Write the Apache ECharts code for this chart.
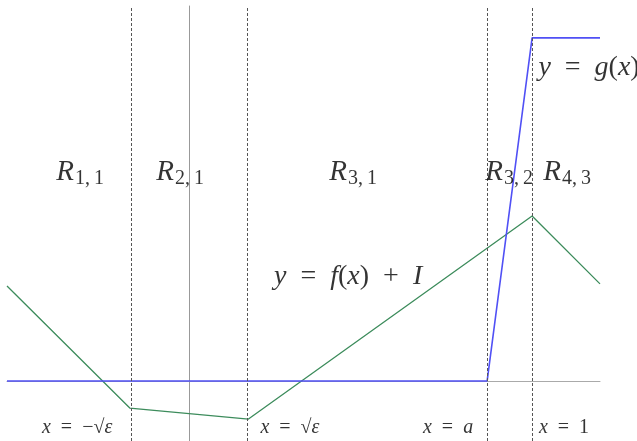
<!DOCTYPE html>
<html>
<head>
<meta charset="utf-8">
<script src="https://cdn.jsdelivr.net/npm/echarts@6/dist/echarts.min.js"></script>
<style>
  html, body { margin: 0; padding: 0; background: #fff; }
  #chart { width: 637px; height: 441px; }
</style>
</head>
<body>
<div id="chart"></div>
<script>
// g(x): step-like ramp between x = a and x = 1
const gX = [-0.531, 0.869, 1, 1.198];
const gY = [0, 0, 1, 1];
// f(x) + I: piecewise linear
const fX = [-0.531, -0.173, 0.173, 1, 1.198];
const fY = [0.277, -0.079, -0.111, 0.481, 0.283];
// dashed boundaries: -sqrt(eps), sqrt(eps), a, 1
const bounds = [-0.173, 0.173, 0.869, 1];

// region labels
const regionSub = ["1,\u20091", "2,\u20091", "3,\u20091", "3,\u20092", "4,\u20093"];
const regionX = [-0.318, -0.026, 0.478, 0.933, 1.102];
const regionY = 0.609;

// boundary labels under the axis
const sp = "\u2002";
const boundText = [
  "{i|x}{n|" + sp + "=" + sp + "−√}{i|ε}",
  "{i|x}{n|" + sp + "=" + sp + "√}{i|ε}",
  "{i|x}{n|" + sp + "=" + sp + "}{i|a}",
  "{i|x}{n|" + sp + "=" + sp + "1}"
];
const boundLabelX = [-0.3265, 0.294, 0.755, 1.093];
const boundLabelY = -0.137;

// curve names
const curveText = [
  "{i|y}{n|" + sp + "=" + sp + "}{i|g}{n|(}{i|x}{n|)}",
  "{i|y}{n|" + sp + "=" + sp + "}{i|f}{n|(}{i|x}{n|)" + sp + "+" + sp + "}{i|I}"
];
const curveLabelX = [1.166, 0.4636];
const curveLabelY = [0.9125, 0.303];

const serif = "'Liberation Serif', 'DejaVu Serif', serif";

function zip(xs, ys) {
  return xs.map((x, i) => [x, Array.isArray(ys) ? ys[i] : ys]);
}

const chart = echarts.init(document.getElementById("chart"));

const option = {
  animation: false,
  grid: { left: 7, right: 37, top: 6, bottom: 0, containLabel: false },
  xAxis: {
    type: "value",
    min: -0.531,
    max: 1.198,
    axisLine: { onZero: true, lineStyle: { color: "#aaa", width: 1 } },
    axisTick: { show: false },
    axisLabel: { show: false },
    splitLine: { show: false }
  },
  yAxis: {
    type: "value",
    min: -0.175,
    max: 1.093,
    axisLine: { show: true, onZero: true, lineStyle: { color: "#999", width: 1 } },
    axisTick: { show: false },
    axisLabel: { show: false },
    splitLine: { show: false }
  },
  series: [
    {
      type: "line",
      data: zip(fX, fY),
      symbol: "none",
      lineStyle: { color: "#3d8c5c", width: 1.3 },
      z: 3
    },
    {
      type: "line",
      data: zip(gX, gY),
      symbol: "none",
      lineStyle: { color: "#5050f5", width: 1.6 },
      z: 4,
      markLine: {
        silent: true,
        symbol: ["none", "none"],
        label: { show: false },
        lineStyle: { type: [3, 2], color: "#555", width: 1 },
        data: bounds.map(v => ({ xAxis: v }))
      }
    },
    {
      type: "scatter",
      symbolSize: 0,
      silent: true,
      data: zip(regionX, regionY).map((p, i) => ({
        value: p,
        label: { formatter: "{r|R}{s|" + regionSub[i] + "}" }
      })),
      label: {
        show: true,
        position: "inside",
        textBorderWidth: 0,
        rich: {
          r: { fontFamily: serif, fontStyle: "italic", fontSize: 29, color: "#000" },
          s: { fontFamily: serif, fontSize: 20, color: "#000", padding: [13, 0, 0, 1] }
        }
      },
      z: 5
    },
    {
      type: "scatter",
      symbolSize: 0,
      silent: true,
      data: zip(boundLabelX, boundLabelY).map((p, i) => ({
        value: p,
        label: { formatter: boundText[i] }
      })),
      label: {
        show: true,
        position: "inside",
        textBorderWidth: 0,
        rich: {
          i: { fontFamily: serif, fontStyle: "italic", fontSize: 20, color: "#000" },
          n: { fontFamily: serif, fontSize: 20, color: "#000" }
        }
      },
      z: 5
    },
    {
      type: "scatter",
      symbolSize: 0,
      silent: true,
      data: zip(curveLabelX, curveLabelY).map((p, i) => ({
        value: p,
        label: { formatter: curveText[i] }
      })),
      label: {
        show: true,
        position: "inside",
        textBorderWidth: 0,
        rich: {
          i: { fontFamily: serif, fontStyle: "italic", fontSize: 28, color: "#000" },
          n: { fontFamily: serif, fontSize: 28, color: "#000" }
        }
      },
      z: 5
    }
  ]
};

chart.setOption(option);
</script>
</body>
</html>
